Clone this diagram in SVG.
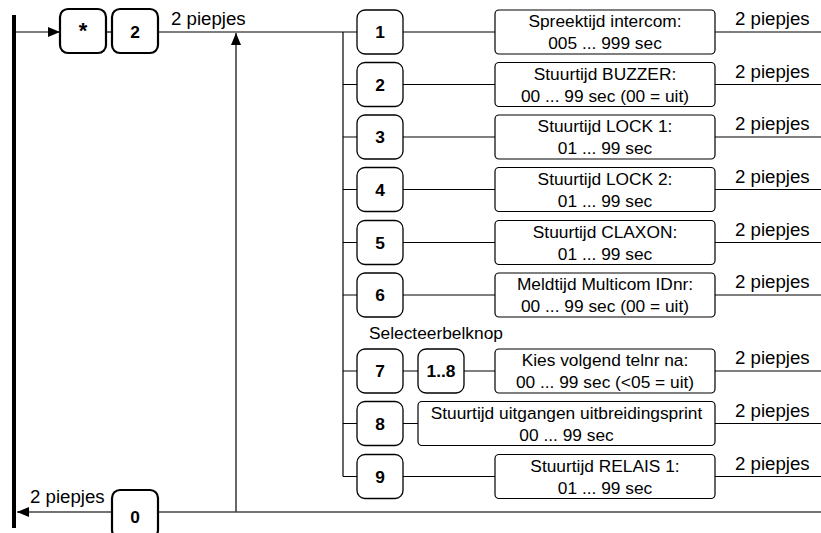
<svg xmlns="http://www.w3.org/2000/svg" width="821" height="533" viewBox="0 0 821 533">
<defs>
<style>
.t{font-family:"Liberation Sans",Arial,sans-serif;font-size:17.33px;fill:#000}
.p{font-size:18.67px}
.c{text-anchor:middle}
.b{font-weight:bold}
.ln{stroke:#000;stroke-width:1.2;fill:none}
.nb{fill:#fff;stroke:#000;stroke-width:1.3}
.kb{fill:#fff;stroke:#000;stroke-width:2.2}
.db{fill:#fff;stroke:#000;stroke-width:1.2}
</style>
<marker id="ah" viewBox="0 0 12 10" refX="12" refY="5" markerWidth="12" markerHeight="10" markerUnits="userSpaceOnUse" orient="auto">
<path d="M0,0 L12,5 L0,10 Z" fill="#000"/>
</marker>
</defs>
<g id="connectors">
<rect x="12" y="15" width="4" height="513" fill="#000"/>
<line class="ln" x1="16" y1="32" x2="60" y2="32" marker-end="url(#ah)"/>
<line class="ln" x1="106" y1="32" x2="112" y2="32"/>
<line class="ln" x1="158" y1="32" x2="357" y2="32"/>
<line class="ln" x1="236" y1="512" x2="236" y2="33" marker-end="url(#ah)"/>
<line x1="821" y1="512" x2="17" y2="512" stroke="#444" stroke-width="1.5" marker-end="url(#ah)"/>
<line class="ln" x1="343" y1="32" x2="343" y2="476.5"/>
<path class="ln" d="M343,84.5H357M343,137H357M343,189.5H357M343,242.5H357M343,295H357M343,371H357M343,423.5H357M343,476.5H357"/>
<path class="ln" d="M403,32H495M403,84.5H495M403,137H495M403,189.5H495M403,242.5H495M403,295H495M403,371H418M464,371H495M403,423.5H418M403,476.5H495"/>
<path class="ln" d="M715,32H821M715,84.5H821M715,137H821M715,189.5H821M715,242.5H821M715,295H821M715,371H821M715,423.5H821M715,476.5H821"/>
</g>
<g id="key-star"><rect class="kb" x="60" y="9" width="46" height="44" rx="8"/><text class="t c b" x="83" y="38" style="font-size:22px">*</text></g>
<g id="key-2"><rect class="kb" x="112" y="9" width="46" height="44" rx="8"/><text class="t c b" x="135" y="38">2</text></g>
<text class="t p" x="171" y="25">2 piepjes</text>
<g id="key-0"><rect class="kb" x="112" y="490" width="46" height="48" rx="8"/><text class="t c b" x="135" y="523">0</text></g>
<text class="t p" x="30" y="503">2 piepjes</text>
<g id="n1"><rect class="nb" x="357" y="10" width="46" height="44" rx="8"/><text class="t c b" x="380" y="38">1</text></g>
<g id="n2"><rect class="nb" x="357" y="62.5" width="46" height="44" rx="8"/><text class="t c b" x="380" y="90.5">2</text></g>
<g id="n3"><rect class="nb" x="357" y="115" width="46" height="44" rx="8"/><text class="t c b" x="380" y="143">3</text></g>
<g id="n4"><rect class="nb" x="357" y="167.5" width="46" height="44" rx="8"/><text class="t c b" x="380" y="195.5">4</text></g>
<g id="n5"><rect class="nb" x="357" y="220.5" width="46" height="44" rx="8"/><text class="t c b" x="380" y="248.5">5</text></g>
<g id="n6"><rect class="nb" x="357" y="273" width="46" height="44" rx="8"/><text class="t c b" x="380" y="301">6</text></g>
<g id="n7"><rect class="nb" x="357" y="349" width="46" height="44" rx="8"/><text class="t c b" x="380" y="377">7</text></g>
<g id="n7b"><rect class="nb" x="418" y="349" width="46" height="44" rx="8"/><text class="t c b" x="441" y="377">1..8</text></g>
<g id="n8"><rect class="nb" x="357" y="401.5" width="46" height="44" rx="8"/><text class="t c b" x="380" y="429.5">8</text></g>
<g id="n9"><rect class="nb" x="357" y="454.5" width="46" height="44" rx="8"/><text class="t c b" x="380" y="482.5">9</text></g>
<text class="t" x="369" y="339">Selecteerbelknop</text>
<g id="d1"><rect class="db" x="495" y="10" width="220" height="44" rx="4"/><text class="t c" x="605" y="27">Spreektijd intercom:</text><text class="t c" x="605" y="49">005 ... 999 sec</text></g>
<g id="d2"><rect class="db" x="495" y="62.5" width="220" height="44" rx="4"/><text class="t c" x="605" y="79.5">Stuurtijd BUZZER:</text><text class="t c" x="605" y="101.5">00 ... 99 sec (00 = uit)</text></g>
<g id="d3"><rect class="db" x="495" y="115" width="220" height="44" rx="4"/><text class="t c" x="605" y="132">Stuurtijd LOCK 1:</text><text class="t c" x="605" y="154">01 ... 99 sec</text></g>
<g id="d4"><rect class="db" x="495" y="167.5" width="220" height="44" rx="4"/><text class="t c" x="605" y="184.5">Stuurtijd LOCK 2:</text><text class="t c" x="605" y="206.5">01 ... 99 sec</text></g>
<g id="d5"><rect class="db" x="495" y="220.5" width="220" height="44" rx="4"/><text class="t c" x="605" y="237.5">Stuurtijd CLAXON:</text><text class="t c" x="605" y="259.5">01 ... 99 sec</text></g>
<g id="d6"><rect class="db" x="495" y="273" width="220" height="44" rx="4"/><text class="t c" x="605" y="290">Meldtijd Multicom IDnr:</text><text class="t c" x="605" y="312">00 ... 99 sec (00 = uit)</text></g>
<g id="d7"><rect class="db" x="495" y="349" width="220" height="44" rx="4"/><text class="t c" x="605" y="366">Kies volgend telnr na:</text><text class="t c" x="605" y="388">00 ... 99 sec (&lt;05 = uit)</text></g>
<g id="d8"><rect class="db" x="418" y="401.5" width="297" height="44" rx="4"/><text class="t c" x="566.5" y="418.5">Stuurtijd uitgangen uitbreidingsprint</text><text class="t c" x="566.5" y="440.5">00 ... 99 sec</text></g>
<g id="d9"><rect class="db" x="495" y="454.5" width="220" height="44" rx="4"/><text class="t c" x="605" y="471.5">Stuurtijd RELAIS 1:</text><text class="t c" x="605" y="493.5">01 ... 99 sec</text></g>
<g id="beeps">
<text class="t p" x="735" y="25">2 piepjes</text>
<text class="t p" x="735" y="77.5">2 piepjes</text>
<text class="t p" x="735" y="130">2 piepjes</text>
<text class="t p" x="735" y="182.5">2 piepjes</text>
<text class="t p" x="735" y="235.5">2 piepjes</text>
<text class="t p" x="735" y="288">2 piepjes</text>
<text class="t p" x="735" y="364">2 piepjes</text>
<text class="t p" x="735" y="416.5">2 piepjes</text>
<text class="t p" x="735" y="469.5">2 piepjes</text>
</g>
</svg>
